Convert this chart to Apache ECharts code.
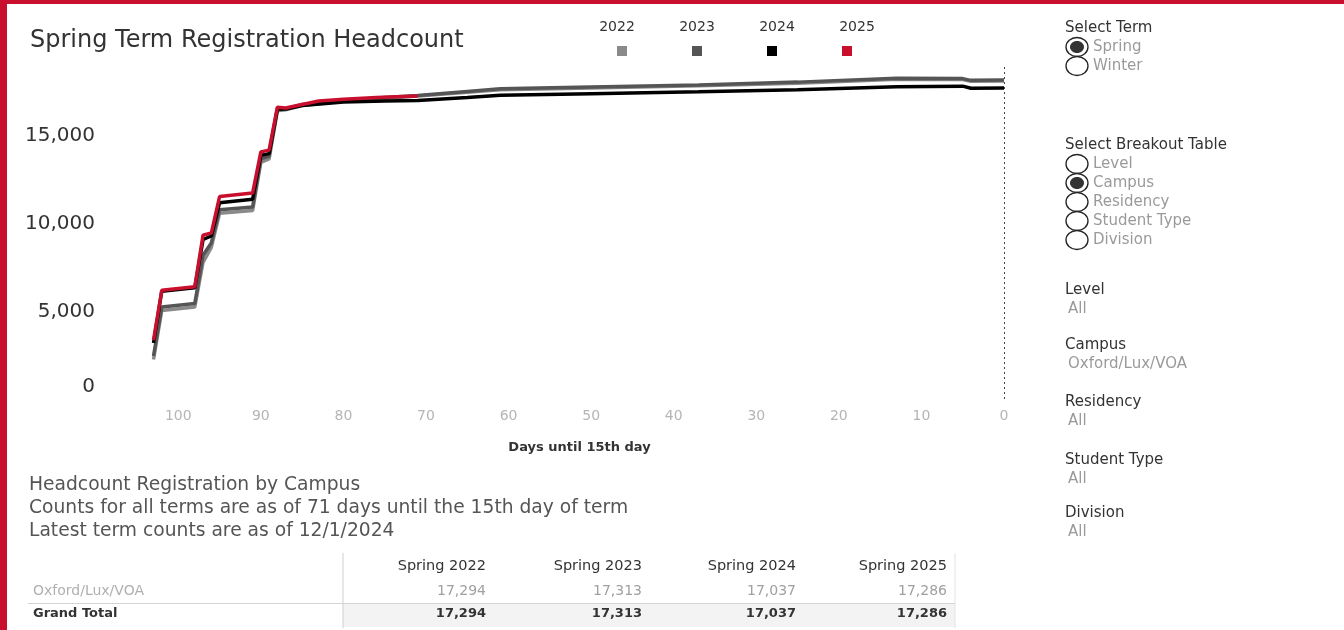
<!DOCTYPE html>
<html><head><meta charset="utf-8">
<script src="https://cdn.jsdelivr.net/npm/echarts@6/dist/echarts.min.js"></script>
<style>html,body{margin:0;padding:0;background:#fff;}#c{width:1344px;height:630px;}</style>
</head><body><div id="c"></div>
<script>
// ---------- DATA ----------
const years = ['2022', '2023', '2024', '2025'];
// [days until 15th day, headcount]
const s2022 = [[103,2250],[102,5050],[98,5250],[97,7800],[96,8650],[95,10600],[91,10750],[90,13500],[89,13700],[88,16450],[87,16500],[85,16750],[80,17000],[75,17150],[71,17294],[65,17500],[61,17650],[50,17750],[37,17880],[25,18020],[13,18250],[5,18230],[4,18130],[0,18150]];
const s2023 = [[103,2450],[102,5250],[98,5450],[97,8200],[96,8900],[95,10800],[91,10950],[90,13700],[89,13850],[88,16500],[87,16550],[85,16800],[80,17050],[75,17200],[71,17313],[65,17550],[61,17700],[50,17800],[37,17920],[25,18080],[13,18300],[5,18280],[4,18180],[0,18200]];
const s2024 = [[103,3200],[102,6150],[98,6350],[97,9100],[96,9300],[95,11200],[91,11400],[90,13900],[89,14000],[88,16550],[87,16550],[85,16750],[80,16950],[75,17000],[71,17037],[65,17200],[61,17330],[50,17420],[37,17530],[25,17650],[13,17810],[5,17850],[4,17730],[0,17750]];
const s2025 = [[103,3350],[102,6200],[98,6400],[97,9350],[96,9470],[95,11550],[91,11750],[90,14100],[89,14200],[88,16650],[87,16600],[85,16800],[83,17000],[80,17100],[76,17200],[71,17286]];
const seriesData = [s2022, s2023, s2024, s2025];

const xTicks = [0,10,20,30,40,50,60,70,80,90,100];
const yTicks = [0,5000,10000,15000];

const termOptions = ['Spring', 'Winter'];
const termSelected = 'Spring';
const breakoutOptions = ['Level', 'Campus', 'Residency', 'Student Type', 'Division'];
const breakoutSelected = 'Campus';
const filterNames = ['Level', 'Campus', 'Residency', 'Student Type', 'Division'];
const filterValues = ['All', 'Oxford/Lux/VOA', 'All', 'All', 'All'];

const notes = ['Headcount Registration by Campus',
  'Counts for all terms are as of 71 days until the 15th day of term',
  'Latest term counts are as of 12/1/2024'];
const tableCols = ['Spring 2022', 'Spring 2023', 'Spring 2024', 'Spring 2025'];
const tableRows = ['Oxford/Lux/VOA', 'Grand Total'];
const campusCounts = [17294, 17313, 17037, 17286];
const totalCounts = [17294, 17313, 17037, 17286];

// ---------- STYLE ----------
const colors = ['#8a8a8a', '#555555', '#000000', '#c8102e'];
const FONT = '"DejaVu Sans", sans-serif';
const fmt = n => n.toLocaleString('en-US');

const chart = echarts.init(document.getElementById('c'), null, {renderer: 'canvas'});

const graphics = [];
// red frame
graphics.push({type: 'rect', shape: {x: 0, y: 0, width: 1344, height: 4}, style: {fill: '#c8102e'}, silent: true});
graphics.push({type: 'rect', shape: {x: 0, y: 0, width: 7, height: 630}, style: {fill: '#c8102e'}, silent: true});

// legend year labels
const legendX0 = 617, legendStep = 80;
years.forEach((y, i) => {
  graphics.push({type: 'text', x: legendX0 + i * legendStep, y: 27,
    style: {text: y, font: '14px ' + FONT, fill: '#333', align: 'center', verticalAlign: 'middle'}});
});

// radio groups
function radioGroup(title, opts, sel, y0) {
  graphics.push({type: 'text', x: 1065, y: y0, style: {text: title, font: '15px ' + FONT, fill: '#333', verticalAlign: 'middle'}});
  opts.forEach((o, i) => {
    const cy = y0 + 19 * (i + 1);
    graphics.push({type: 'ellipse', shape: {cx: 1077, cy: cy, rx: 11, ry: 9.5}, style: {fill: '#fff', stroke: '#222', lineWidth: 1.3}});
    if (o === sel) {
      graphics.push({type: 'ellipse', shape: {cx: 1077, cy: cy, rx: 7, ry: 6}, style: {fill: '#333'}});
    }
    graphics.push({type: 'text', x: 1093, y: cy, style: {text: o, font: '15px ' + FONT, fill: '#9a9a9a', verticalAlign: 'middle'}});
  });
}
radioGroup('Select Term', termOptions, termSelected, 28);
radioGroup('Select Breakout Table', breakoutOptions, breakoutSelected, 145);

// filters
const filterY = [290, 345, 402, 460, 513];
filterNames.forEach((n, i) => {
  graphics.push({type: 'text', x: 1065, y: filterY[i], style: {text: n, font: '15px ' + FONT, fill: '#333', verticalAlign: 'middle'}});
  graphics.push({type: 'text', x: 1068, y: filterY[i] + 19, style: {text: filterValues[i], font: '15px ' + FONT, fill: '#9a9a9a', verticalAlign: 'middle'}});
});

// notes
notes.forEach((t, i) => {
  graphics.push({type: 'text', x: 29, y: 485 + i * 23, style: {text: t, font: '18.7px ' + FONT, fill: '#555', verticalAlign: 'middle'}});
});

// table
const colRight = [486, 642, 796, 947];
graphics.push({type: 'rect', shape: {x: 343, y: 604, width: 612, height: 23}, style: {fill: '#f3f3f3'}, silent: true});
graphics.push({type: 'line', shape: {x1: 343, y1: 553, x2: 343, y2: 628}, style: {stroke: '#cfcfcf', lineWidth: 1}});
graphics.push({type: 'line', shape: {x1: 955, y1: 553, x2: 955, y2: 628}, style: {stroke: '#e2e2e2', lineWidth: 1}});
graphics.push({type: 'line', shape: {x1: 28, y1: 603.5, x2: 955, y2: 603.5}, style: {stroke: '#d4d4d4', lineWidth: 1}});
tableCols.forEach((c, i) => {
  graphics.push({type: 'text', x: colRight[i], y: 566, style: {text: c, font: '14.5px ' + FONT, fill: '#333', align: 'right', verticalAlign: 'middle'}});
  graphics.push({type: 'text', x: colRight[i], y: 591, style: {text: fmt(campusCounts[i]), font: '14px ' + FONT, fill: '#a0a0a0', align: 'right', verticalAlign: 'middle'}});
  graphics.push({type: 'text', x: colRight[i], y: 614, style: {text: fmt(totalCounts[i]), font: 'bold 13px ' + FONT, fill: '#333', align: 'right', verticalAlign: 'middle'}});
});
graphics.push({type: 'text', x: 33, y: 591, style: {text: tableRows[0], font: '14px ' + FONT, fill: '#b0b0b0', verticalAlign: 'middle'}});
graphics.push({type: 'text', x: 33, y: 614, style: {text: tableRows[1], font: 'bold 13px ' + FONT, fill: '#333', verticalAlign: 'middle'}});

const series = years.map((y, i) => ({
  name: y,
  type: 'line',
  data: seriesData[i],
  symbol: 'none',
  smooth: false,
  lineStyle: {color: colors[i], width: 3.5},
  itemStyle: {color: colors[i]},
  z: 2 + i,
  animation: false
}));
series[0].markLine = {
  silent: true, symbol: 'none', label: {show: false},
  lineStyle: {color: '#444', type: [2, 3], width: 1},
  data: [{xAxis: 0}]
};

chart.setOption({
  animation: false,
  backgroundColor: '#fff',
  title: {text: 'Spring Term Registration Headcount', left: 25, top: 24,
    textStyle: {fontFamily: FONT, fontSize: 24, fontWeight: 'normal', color: '#333'}},
  legend: {
    data: years, left: 612, top: 41, itemWidth: 10, itemHeight: 10, itemGap: 65,
    icon: 'rect', formatter: () => '', selectedMode: false,
    textStyle: {fontSize: 1}
  },
  grid: {left: 137, right: 340, top: 66, bottom: 231},
  xAxis: {
    type: 'value', inverse: true, min: 0, max: 105, interval: 10,
    name: 'Days until 15th day', nameLocation: 'middle', nameGap: 42,
    nameTextStyle: {fontFamily: FONT, fontSize: 13, fontWeight: 'bold', color: '#333', padding: [0, 0, 0, 18]},
    axisLine: {show: false}, axisTick: {show: false}, splitLine: {show: false},
    axisLabel: {fontFamily: FONT, fontSize: 14, color: '#b5b5b5', margin: 10,
      formatter: v => xTicks.includes(v) ? String(v) : ''}
  },
  yAxis: {
    type: 'value', min: 0, max: 19000, interval: 5000,
    axisLine: {show: false}, axisTick: {show: false}, splitLine: {show: false},
    axisLabel: {fontFamily: FONT, fontSize: 20, color: '#333', margin: 42,
      formatter: v => yTicks.includes(v) ? (v === 0 ? '{z|0}' : fmt(v)) : '',
      rich: {z: {fontFamily: FONT, fontSize: 20, color: '#333', padding: [0, 0, 24, 0]}}}
  },
  series: series,
  graphic: graphics
});
</script>
</body></html>
